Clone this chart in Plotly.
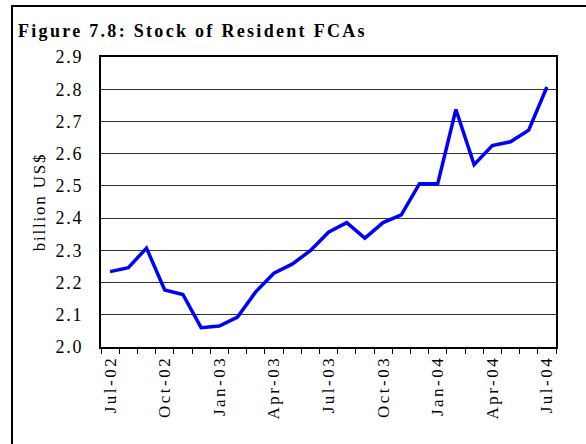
import plotly.graph_objects as go

months = ["Jul-02","Aug-02","Sep-02","Oct-02","Nov-02","Dec-02",
          "Jan-03","Feb-03","Mar-03","Apr-03","May-03","Jun-03",
          "Jul-03","Aug-03","Sep-03","Oct-03","Nov-03","Dec-03",
          "Jan-04","Feb-04","Mar-04","Apr-04","May-04","Jun-04","Jul-04"]
stock = [2.234, 2.246, 2.307, 2.177, 2.163, 2.060,
         2.065, 2.093, 2.171, 2.229, 2.257, 2.299,
         2.356, 2.386, 2.338, 2.386, 2.410, 2.507,
         2.507, 2.737, 2.566, 2.625, 2.637, 2.673, 2.807]
y_ticks = [2.0, 2.1, 2.2, 2.3, 2.4, 2.5, 2.6, 2.7, 2.8, 2.9]

xpos = list(range(len(months)))
label_idx = xpos[::3]

SERIF = "Liberation Serif, Times New Roman, serif"


def spaced(text, px):
    return f'<span style="letter-spacing:{px}px">{text}</span>'


fig = go.Figure()
fig.add_trace(go.Scatter(x=xpos, y=stock, mode="lines",
                         line=dict(color="#0000FF", width=3.5),
                         showlegend=False, hoverinfo="skip"))

fig.update_layout(
    width=586, height=444,
    margin=dict(l=101, r=30, t=57, b=97),
    paper_bgcolor="white", plot_bgcolor="white",
    font=dict(family=SERIF, color="black", size=17),
    title=dict(text="<b>" + spaced("Figure 7.8: Stock of Resident FCAs", 2.3) + "</b>",
               x=18/586, xanchor="left", y=1-31/444, yanchor="middle",
               font=dict(family=SERIF, size=18, color="black")),
)

fig.update_xaxes(
    range=[-0.5, len(months) - 0.5],
    tickmode="array", tickvals=label_idx,
    ticktext=[spaced(months[i], 2.5) for i in label_idx],
    tickangle=-90, ticks="", ticklabelstandoff=0,
    tickfont=dict(family=SERIF, size=17),
    showgrid=False, zeroline=False,
    showline=True, linecolor="black", linewidth=2, mirror=True,
    minor=dict(tickmode="linear", tick0=-0.5, dtick=1, ticks="outside",
               ticklen=5, tickcolor="black", tickwidth=1, showgrid=False),
)
fig.update_yaxes(
    range=[2.0, 2.9], tickmode="array", tickvals=y_ticks,
    ticktext=[spaced(f"{v:.1f}", 1.8) for v in y_ticks],
    ticks="", ticklabelstandoff=12,
    tickfont=dict(family=SERIF, size=18),
    showgrid=True, gridcolor="#333333", gridwidth=1, zeroline=False,
    showline=True, linecolor="black", linewidth=2, mirror=True,
    title=dict(text=spaced("billion US$", 1.8), standoff=6,
               font=dict(family=SERIF, size=17)),
)

# outer frame of the figure box
fig.add_shape(type="rect", xref="paper", yref="paper",
              x0=(12 - 101) / 455, x1=(620 - 101) / 455,
              y0=(347 - 480) / 290, y1=(347 - 6) / 290,
              line=dict(color="black", width=2), fillcolor="rgba(0,0,0,0)",
              layer="below")

fig.write_html("out.html", config={"displayModeBar": False},
               post_script="document.body.style.margin='0';")
